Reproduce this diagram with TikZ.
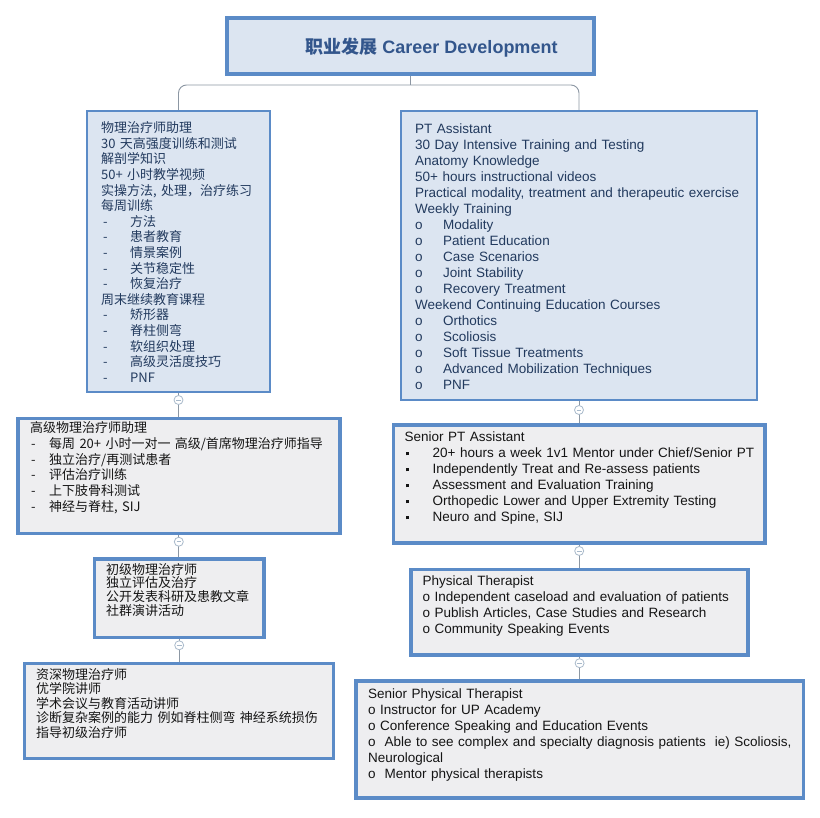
\documentclass[tikz,border=0pt]{standalone}
\usepackage{fontspec}
\setmainfont{Liberation Sans}
\newfontfamily\cjk{Noto Sans CJK SC}
\usepackage{tikz}
\usetikzlibrary{positioning,calc}

\definecolor{boxblue}{HTML}{5B8BC7}
\definecolor{paleblue}{HTML}{DCE5F1}
\definecolor{palegrey}{HTML}{EEEEF0}
\definecolor{inkblue}{HTML}{223A5E}
\definecolor{headblue}{HTML}{33568C}
\definecolor{inkgrey}{HTML}{151515}
\definecolor{linegrey}{HTML}{8C97A3}
\definecolor{togglegrey}{HTML}{A9BACB}

\newcommand{\rowitem}[3]{\makebox[#1][l]{#2}#3}
\newcommand{\sqbul}{\hspace{1.5pt}\raisebox{2.5pt}{\rule{3pt}{3pt}}}

\begin{document}
\begin{tikzpicture}[x=1pt, y=-1pt,
  bluebox/.style={rectangle, draw=boxblue, fill=paleblue, line width=2pt},
  greybox/.style={rectangle, draw=boxblue, fill=palegrey, line width=3.5pt},
  txt/.style={anchor=base west, inner sep=0pt, align=left, text width=460pt},
  entxt/.style={txt, font=\fontsize{13.5}{16}\selectfont},
  cntxt/.style={txt, font=\cjk\fontsize{13}{15.6}\selectfont},
  conn/.style={draw=linegrey, line width=0.9pt},
  toggle/.style={circle, draw=togglegrey, fill=white, line width=0.8pt, minimum size=9pt, inner sep=0pt,
    path picture={\draw[togglegrey, line width=0.8pt] ([xshift=-2.3pt]path picture bounding box.center) -- ([xshift=2.3pt]path picture bounding box.center);}}]

\fill[white] (0,0) rectangle (820,818);
\useasboundingbox (0,0) rectangle (820,818);

% title
\node[rectangle, draw=boxblue, fill=paleblue, line width=4pt, minimum width=367pt, minimum height=56.5pt] (title) at (410.5,46.25) {};
\node[anchor=base, inner sep=0pt, text=headblue, font=\fontsize{18}{20}\selectfont\bfseries] (titletxt) at (431.5,53.5) {{\cjk 职业发展} Career Development};

% boxes
\node[bluebox, minimum width=183pt, minimum height=281pt] (lpt) at (178.5,251.5) {};
\node[bluebox, minimum width=356pt, minimum height=289pt] (rpt) at (579,255.5) {};
\node[greybox, minimum width=322pt, minimum height=115pt] (lsa) at (178.8,475.8) {};
\node[greybox, minimum width=371.5pt, minimum height=118pt] (rsa) at (579.2,484.2) {};
\node[greybox, minimum width=169.5pt, minimum height=78.5pt] (lph) at (179.2,598.3) {};
\node[greybox, minimum width=337pt, minimum height=85.5pt] (rph) at (579.6,612.2) {};
\node[greybox, minimum width=309pt, minimum height=95pt] (lsp) at (178.8,710.8) {};
\node[greybox, minimum width=447.5pt, minimum height=117pt] (rsp) at (579.5,739.6) {};

% texts
\node[cntxt, text=inkblue] (lpttxt) at (101,132.7) {物理治疗师助理\\
30 天高强度训练和测试\\
解剖学知识\\
50+ 小时教学视频\\
实操方法, 处理，治疗练习\\
每周训练\\
\rowitem{29pt}{\hspace{2pt}-}{方法}\\
\rowitem{29pt}{\hspace{2pt}-}{患者教育}\\
\rowitem{29pt}{\hspace{2pt}-}{情景案例}\\
\rowitem{29pt}{\hspace{2pt}-}{关节稳定性}\\
\rowitem{29pt}{\hspace{2pt}-}{恢复治疗}\\
周末继续教育课程\\
\rowitem{29pt}{\hspace{2pt}-}{矫形器}\\
\rowitem{29pt}{\hspace{2pt}-}{脊柱侧弯}\\
\rowitem{29pt}{\hspace{2pt}-}{软组织处理}\\
\rowitem{29pt}{\hspace{2pt}-}{高级灵活度技巧}\\
\rowitem{29pt}{\hspace{2pt}-}{PNF}};

\node[entxt, text=inkblue] (rpttxt) at (415,134) {PT Assistant\\
30 Day Intensive Training and Testing\\
Anatomy Knowledge\\
50+ hours instructional videos\\
Practical modality, treatment and therapeutic exercise\\
Weekly Training\\
\rowitem{28pt}{o}{Modality}\\
\rowitem{28pt}{o}{Patient Education}\\
\rowitem{28pt}{o}{Case Scenarios}\\
\rowitem{28pt}{o}{Joint Stability}\\
\rowitem{28pt}{o}{Recovery Treatment}\\
Weekend Continuing Education Courses\\
\rowitem{28pt}{o}{Orthotics}\\
\rowitem{28pt}{o}{Scoliosis}\\
\rowitem{28pt}{o}{Soft Tissue Treatments}\\
\rowitem{28pt}{o}{Advanced Mobilization Techniques}\\
\rowitem{28pt}{o}{PNF}};

\node[cntxt, text=inkgrey, font=\cjk\fontsize{13}{15.9}\selectfont] (lsatxt) at (30,432.3) {高级物理治疗师助理\\
\rowitem{19pt}{\hspace{1pt}-}{每周 20+ 小时一对一 高级/首席物理治疗师指导}\\
\rowitem{19pt}{\hspace{1pt}-}{独立治疗/再测试患者}\\
\rowitem{19pt}{\hspace{1pt}-}{评估治疗训练}\\
\rowitem{19pt}{\hspace{1pt}-}{上下肢骨科测试}\\
\rowitem{19pt}{\hspace{1pt}-}{神经与脊柱, SIJ}};

\node[entxt, text=inkgrey] (rsatxt) at (404.5,442) {Senior PT Assistant\\
\rowitem{28pt}{\sqbul}{20+ hours a week 1v1 Mentor under Chief/Senior PT}\\
\rowitem{28pt}{\sqbul}{Independently Treat and Re-assess patients}\\
\rowitem{28pt}{\sqbul}{Assessment and Evaluation Training}\\
\rowitem{28pt}{\sqbul}{Orthopedic Lower and Upper Extremity Testing}\\
\rowitem{28pt}{\sqbul}{Neuro and Spine, SIJ}};

\node[cntxt, text=inkgrey, font=\cjk\fontsize{13}{13.6}\selectfont] (lphtxt) at (106,574.3) {初级物理治疗师\\
独立评估及治疗\\
公开发表科研及患教文章\\
社群演讲活动};

\node[entxt, text=inkgrey] (rphtxt) at (422.5,585.5) {Physical Therapist\\
o Independent caseload and evaluation of patients\\
o Publish Articles, Case Studies and Research\\
o Community Speaking Events};

\node[cntxt, text=inkgrey, font=\cjk\fontsize{13}{14.5}\selectfont] (lsptxt) at (36,679) {资深物理治疗师\\
优学院讲师\\
学术会议与教育活动讲师\\
诊断复杂案例的能力 例如脊柱侧弯 神经系统损伤\\
指导初级治疗师};

\node[entxt, text=inkgrey] (rsptxt) at (368,698) {Senior Physical Therapist\\
o Instructor for UP Academy\\
o Conference Speaking and Education Events\\
o\ \ Able to see complex and specialty diagnosis patients\ \ ie) Scoliosis,\\
Neurological\\
o\ \ Mentor physical therapists};

% connectors
\coordinate (split) at ($(title.south)+(0,-8.5pt)$);
\draw[conn] (title.south) -- (split);
\draw[conn, rounded corners=8pt] (lpt.north) |- (split) -| (rpt.north);
\draw[conn] (lpt.south) -- (lpt.south |- lsa.north);
\draw[conn] (lsa.south) -- (lsa.south |- lph.north);
\draw[conn] (lph.south) -- (lph.south |- lsp.north);
\draw[conn] (rpt.south) -- (rpt.south |- rsa.north);
\draw[conn] (rsa.south) -- (rsa.south |- rph.north);
\draw[conn] (rph.south) -- (rph.south |- rsp.north);

% collapse toggles
\node[toggle] (tl1) at ([yshift=-7pt]lpt.south) {};
\node[toggle] (tl2) at ([yshift=-6.7pt]lsa.south) {};
\node[toggle] (tl3) at ([yshift=-6pt]lph.south) {};
\node[toggle] (tr1) at ([yshift=-9pt]rpt.south) {};
\node[toggle] (tr2) at ([yshift=-6pt]rsa.south) {};
\node[toggle] (tr3) at ([yshift=-6.5pt]rph.south) {};
\end{tikzpicture}
\end{document}
